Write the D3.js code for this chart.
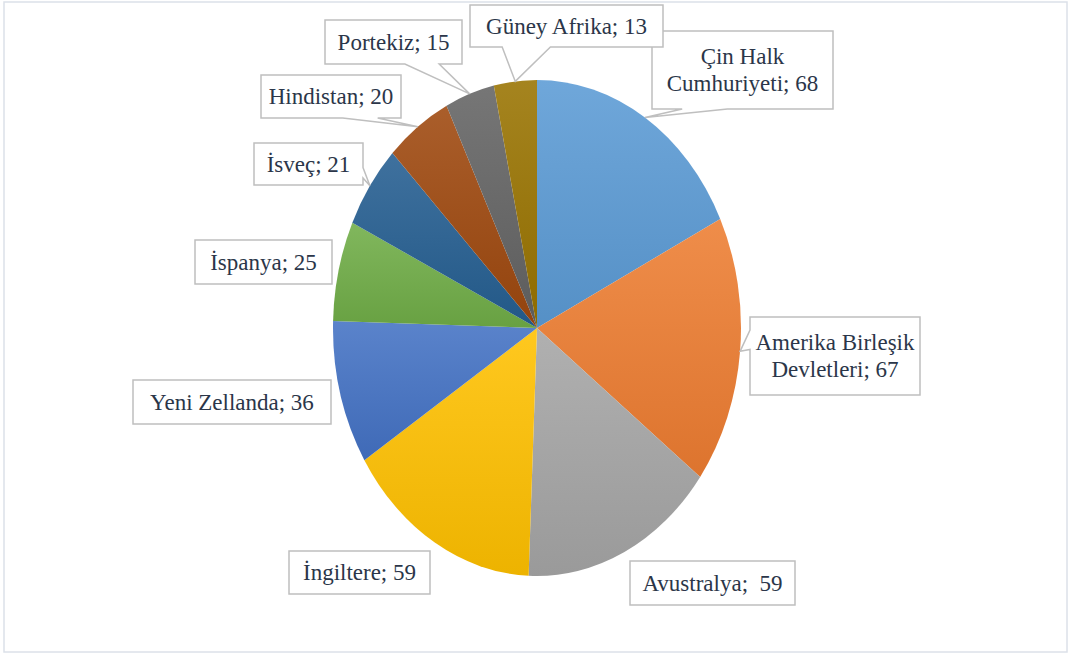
<!DOCTYPE html>
<html>
<head>
<meta charset="utf-8">
<script src="https://cdn.jsdelivr.net/npm/d3@7"></script>
<style>
  html, body { margin: 0; padding: 0; background: #fff; }
  svg { display: block; }
  .label text { font-family: "Liberation Serif", "DejaVu Serif", serif; font-size: 23px; fill: #2B3649; }
</style>
</head>
<body>
<div id="piechart"></div>
<script>
// chart data
var countries = ["Çin Halk Cumhuriyeti", "Amerika Birleşik Devletleri", "Avustralya", "İngiltere",
                 "Yeni Zellanda", "İspanya", "İsveç", "Hindistan", "Portekiz", "Güney Afrika"];
var counts = [68, 67, 59, 59, 36, 25, 21, 20, 15, 13];
// label text as it is broken in the boxes
var labelLines = [["Çin Halk", "Cumhuriyeti; 68"], ["Amerika Birleşik", "Devletleri; 67"], ["Avustralya;  59"],
                  ["İngiltere; 59"], ["Yeni Zellanda; 36"], ["İspanya; 25"], ["İsveç; 21"],
                  ["Hindistan; 20"], ["Portekiz; 15"], ["Güney Afrika; 13"]];

var colors = ["#5B9BD5", "#ED7D31", "#A5A5A5", "#FFC000", "#4472C4", "#70AD47",
              "#255E91", "#9E480E", "#636363", "#997300"];

// label box layout (x, y, w, h) and whether a callout wedge is drawn
var boxes = [
  {x: 652, y: 31, w: 181, h: 78, wedge: true},
  {x: 750, y: 317, w: 170, h: 78, wedge: true},
  {x: 630, y: 561, w: 165, h: 44, wedge: false},
  {x: 289, y: 551, w: 141, h: 43, wedge: false},
  {x: 133, y: 380, w: 198, h: 44, wedge: false},
  {x: 195, y: 240, w: 137, h: 44, wedge: false},
  {x: 254, y: 143, w: 109, h: 42, wedge: true},
  {x: 261, y: 75, w: 140, h: 43, wedge: true},
  {x: 325, y: 20, w: 137, h: 44, wedge: true},
  {x: 470, y: 5, w: 193, h: 42, wedge: true}
];

var width = 1070, height = 654;
var cx = 537, cy = 328, rx = 204, ry = 248;

var data = countries.map(function(c, i) { return {country: c, cases: counts[i], i: i}; });

var svg = d3.select("#piechart").append("svg")
    .attr("width", width)
    .attr("height", height);

// outer chart border
svg.append("rect")
    .attr("x", 4).attr("y", 2)
    .attr("width", 1063).attr("height", 650)
    .attr("fill", "#fff")
    .attr("stroke", "#DCE1E9")
    .attr("stroke-width", 1.5);

// gradients for the slices
var defs = svg.append("defs");
colors.forEach(function(c, i) {
  var grad = defs.append("linearGradient")
      .attr("id", "grad" + i)
      .attr("x1", 0).attr("y1", 0).attr("x2", 0).attr("y2", 1);
  grad.append("stop").attr("offset", "0%").attr("stop-color", d3.interpolateRgb(c, "#fff")(0.12));
  grad.append("stop").attr("offset", "100%").attr("stop-color", d3.color(c).darker(0.2));
});

var pie = d3.pie()
    .sort(null)
    .value(function(d) { return d.cases; });

var arcs = pie(data);

var arc = d3.arc()
    .outerRadius(ry)
    .innerRadius(0);

var g = svg.append("g")
    .attr("transform", "translate(" + cx + "," + cy + ") scale(" + (rx / ry) + ",1)");

g.selectAll(".arc")
    .data(arcs)
  .enter().append("path")
    .attr("class", "arc")
    .attr("d", arc)
    .style("fill", function(d, i) { return "url(#grad" + i + ")"; });

// callout box with wedge pointing to the tip
function callout(b, tx, ty, wedge) {
  var x = b.x, y = b.y, w = b.w, h = b.h;
  if (!wedge) {
    return "M" + x + "," + y + "H" + (x + w) + "V" + (y + h) + "H" + x + "Z";
  }
  var dx = tx - (x + w / 2), dy = ty - (y + h / 2);
  var p = "M" + x + "," + y;
  if (Math.abs(dx) / w > Math.abs(dy) / h) {
    var a = dy < 0 ? y + h * 2 / 12 : y + h * 7 / 12;
    var bb = dy < 0 ? y + h * 5 / 12 : y + h * 10 / 12;
    if (dx > 0) {
      p += "H" + (x + w) + "V" + a + "L" + tx + "," + ty + "L" + (x + w) + "," + bb +
           "V" + (y + h) + "H" + x + "Z";
    } else {
      p += "H" + (x + w) + "V" + (y + h) + "H" + x + "V" + bb + "L" + tx + "," + ty +
           "L" + x + "," + a + "Z";
    }
  } else {
    var a2 = dx < 0 ? x + w * 2 / 12 : x + w * 7 / 12;
    var b2 = dx < 0 ? x + w * 5 / 12 : x + w * 10 / 12;
    if (dy > 0) {
      p += "H" + (x + w) + "V" + (y + h) + "H" + b2 + "L" + tx + "," + ty + "L" + a2 + "," + (y + h) +
           "H" + x + "Z";
    } else {
      p += "H" + a2 + "L" + tx + "," + ty + "L" + b2 + "," + y + "H" + (x + w) + "V" + (y + h) +
           "H" + x + "Z";
    }
  }
  return p;
}

var labels = svg.selectAll(".label")
    .data(arcs)
  .enter().append("g")
    .attr("class", "label");

labels.append("path")
    .attr("d", function(d, i) {
      var mid = (d.startAngle + d.endAngle) / 2;
      var tx = cx + rx * Math.sin(mid), ty = cy - ry * Math.cos(mid);
      return callout(boxes[i], tx, ty, boxes[i].wedge);
    })
    .attr("fill", "#fff")
    .attr("stroke", "#BFBFBF")
    .attr("stroke-width", 1.5);

labels.each(function(d, i) {
  var b = boxes[i], lines = labelLines[i];
  var lh = 27;
  var t = d3.select(this).append("text")
      .attr("text-anchor", "middle")
      .style("white-space", "pre");
  var y0 = b.y + b.h / 2 - (lines.length - 1) * lh / 2;
  lines.forEach(function(l, k) {
    t.append("tspan")
        .attr("x", b.x + b.w / 2)
        .attr("y", y0 + k * lh)
        .attr("dy", "0.34em")
        .text(l);
  });
});
</script>
</body>
</html>
